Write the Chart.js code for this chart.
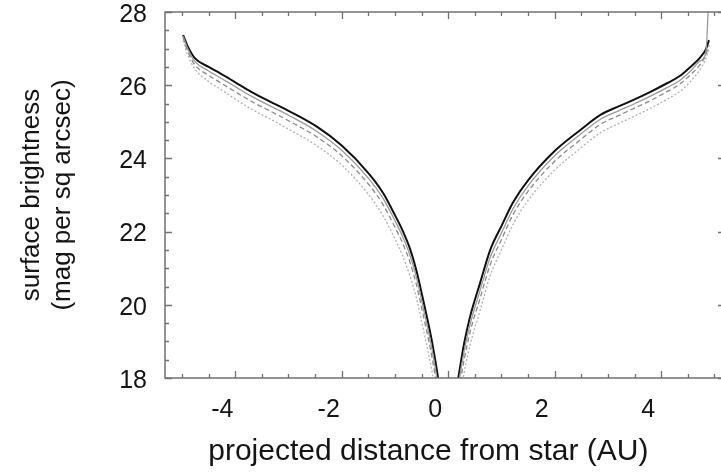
<!DOCTYPE html>
<html><head><meta charset="utf-8">
<script src="https://cdn.jsdelivr.net/npm/chart.js@4"></script>
<style>
html,body{margin:0;padding:0;background:#fff;overflow:hidden;width:721px;height:472px}
#wrap{width:745px;height:472px;position:relative}
</style></head>
<body><div id="wrap"><canvas id="c" width="745" height="472"></canvas></div>
<script>
// tick labels
const xTickLabels = [-4, -2, 0, 2, 4];
const yTickLabels = [18, 20, 22, 24, 26, 28];

// left branch (x < 0)
const xLeft = [-4.98, -4.9, -4.76, -4.5, -4.29, -4.0, -3.7, -3.3, -3.0, -2.46, -2.0, -1.5, -1.22, -1.0, -0.86, -0.71, -0.6, -0.47, -0.3, -0.19, -0.1];
const solidLeft  = [27.37, 27.08, 26.74, 26.5, 26.33, 26.08, 25.82, 25.52, 25.3, 24.86, 24.35, 23.6, 23.05, 22.45, 22.04, 21.5, 20.95, 20.13, 18.96, 18.0, 17.0];
const greyLeft   = [27.34, 27.02, 26.65, 26.39, 26.21, 25.96, 25.7, 25.4, 25.18, 24.73, 24.22, 23.46, 22.9, 22.3, 21.88, 21.32, 20.77, 19.93, 18.75, 17.78, 16.8];
const dashedLeft = [27.3, 26.95, 26.56, 26.27, 26.08, 25.82, 25.56, 25.26, 25.03, 24.58, 24.07, 23.3, 22.73, 22.12, 21.7, 21.13, 20.57, 19.72, 18.53, 17.55, 16.6];
const dottedLeft = [27.22, 26.85, 26.45, 26.1, 25.9, 25.62, 25.35, 25.04, 24.8, 24.34, 23.82, 23.02, 22.42, 21.8, 21.35, 20.75, 20.2, 19.35, 18.15, 17.2, 16.3];

// right branch (x > 0)
const xRight = [0.1, 0.19, 0.3, 0.41, 0.6, 0.79, 1.0, 1.22, 1.5, 2.0, 2.46, 2.86, 3.2, 3.48, 3.8, 4.12, 4.35, 4.55, 4.74, 4.84, 4.9];
const solidRight  = [17.2, 18.0, 18.95, 19.67, 20.6, 21.5, 22.15, 22.8, 23.4, 24.2, 24.75, 25.19, 25.42, 25.6, 25.82, 26.06, 26.25, 26.5, 26.77, 26.98, 27.23];
const greyRight   = [16.8, 17.78, 18.74, 19.46, 20.4, 21.3, 21.96, 22.63, 23.25, 24.07, 24.63, 25.07, 25.3, 25.48, 25.7, 25.94, 26.13, 26.38, 26.67, 26.9, 28.6];
const dashedRight = [16.6, 17.55, 18.5, 19.25, 20.18, 21.1, 21.78, 22.47, 23.1, 23.92, 24.48, 24.93, 25.17, 25.36, 25.58, 25.83, 26.03, 26.28, 26.58, 26.83, 27.1];
const dottedRight = [16.3, 17.2, 18.15, 18.9, 19.85, 20.8, 21.5, 22.2, 22.85, 23.68, 24.25, 24.7, 24.95, 25.14, 25.37, 25.62, 25.83, 26.1, 26.45, 26.72, 27.0];

function pts(left, right) {
  const a = xLeft.map((x, i) => ({x: x, y: left[i]}));
  a.push({x: 0, y: null});
  return a.concat(xRight.map((x, i) => ({x: x, y: right[i]})));
}

const FONT = '"Liberation Sans", Arial, Helvetica, sans-serif';
const TEXT = '#151515';

const framePlugin = {
  id: 'frame',
  afterDatasetsDraw(chart) {
    const {ctx, chartArea: a, scales: {x, y}} = chart;
    ctx.save();
    ctx.strokeStyle = '#707070';
    ctx.lineWidth = 1.5;
    ctx.strokeRect(a.left, a.top, a.right - a.left, a.bottom - a.top);
    ctx.lineWidth = 1.3;
    ctx.beginPath();
    for (let v = -5; v <= 5.001; v += 0.5) {
      const px = Math.round(x.getPixelForValue(v)) + 0.5;
      const major = Math.abs(v % 2) < 1e-6;
      const len = major ? 7 : 4;
      ctx.moveTo(px, a.bottom); ctx.lineTo(px, a.bottom - len);
      ctx.moveTo(px, a.top); ctx.lineTo(px, a.top + len);
    }
    for (let v = 18; v <= 28.001; v += 0.5) {
      const py = Math.round(y.getPixelForValue(v)) + 0.5;
      const major = Math.abs(v % 2) < 1e-6;
      const len = major ? 7 : 4;
      ctx.moveTo(a.left, py); ctx.lineTo(a.left + len, py);
      ctx.moveTo(a.right, py); ctx.lineTo(a.right - len, py);
    }
    ctx.stroke();
    ctx.restore();
  }
};

new Chart(document.getElementById('c'), {
  type: 'line',
  data: {
    datasets: [
      {data: pts(dottedLeft, dottedRight), borderColor: '#b0b0b0', borderWidth: 1.3, borderDash: [2, 2]},
      {data: pts(dashedLeft, dashedRight), borderColor: '#8a8a8a', borderWidth: 1.3, borderDash: [5, 3]},
      {data: pts(greyLeft, greyRight), borderColor: '#9a9a9a', borderWidth: 1.3},
      {data: pts(solidLeft, solidRight), borderColor: '#111111', borderWidth: 2}
    ]
  },
  options: {
    responsive: false,
    animation: false,
    devicePixelRatio: 1,
    spanGaps: false,
    elements: {point: {radius: 0}, line: {cubicInterpolationMode: 'monotone', fill: false}},
    layout: {padding: {top: 12, right: 20, bottom: 0, left: 0}},
    plugins: {legend: {display: false}, tooltip: {enabled: false}},
    scales: {
      x: {
        type: 'linear', min: -5.32, max: 5.2,
        afterBuildTicks: s => { s.ticks = xTickLabels.map(v => ({value: v})); },
        afterFit: s => { s.height = 94; s.paddingLeft = 0; s.paddingRight = 0; },
        grid: {display: false, drawTicks: false},
        border: {display: false},
        ticks: {color: TEXT, font: {family: FONT, size: 25}, padding: 17, labelOffset: -13, maxRotation: 0, autoSkip: false},
        title: {display: true, text: 'projected distance from star (AU)    ', color: TEXT, font: {family: FONT, size: 30, lineHeight: 1.2}, padding: {top: 0, bottom: 2}}
      },
      y: {
        type: 'linear', min: 18, max: 28,
        afterBuildTicks: s => { s.ticks = yTickLabels.map(v => ({value: v})); },
        afterFit: s => { s.width = 165; s.paddingTop = 0; s.paddingBottom = 0; },
        grid: {display: false, drawTicks: false},
        border: {display: false},
        ticks: {color: TEXT, font: {family: FONT, size: 25}, padding: 18, labelOffset: 3, autoSkip: false},
        title: {display: true, text: ['surface brightness', '(mag per sq arcsec)'], color: TEXT, font: {family: FONT, size: 26, lineHeight: 1.2}, padding: {top: 16, bottom: 0}}
      }
    }
  },
  plugins: [framePlugin]
});
</script>
</body></html>
